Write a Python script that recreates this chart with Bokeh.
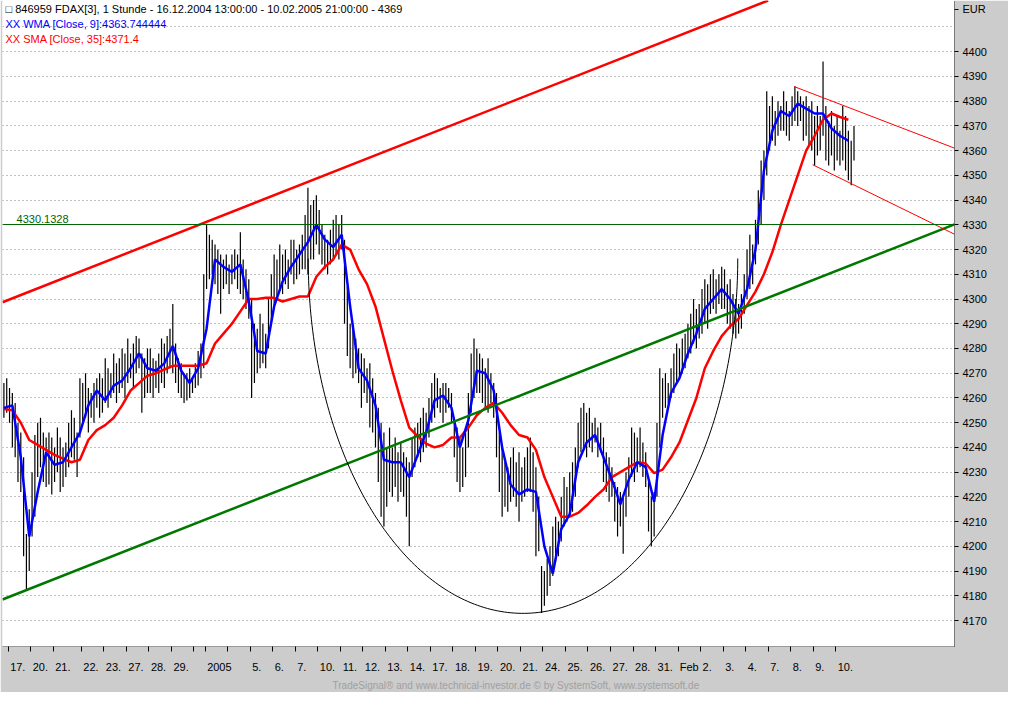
import numpy as np
from bokeh.plotting import figure
from bokeh.models import Range1d, FixedTicker, Label, Span, Title
from bokeh.embed import file_html
from bokeh.resources import INLINE

# ---------------- data ----------------
# trading days on the time axis ("" = tick without label) and hourly bars per day
day_labels = ["", "17.", "20.", "21.", "22.", "23.", "27.", "28.", "29.", "", "2005", "", "5.", "6.", "7.",
              "10.", "11.", "12.", "13.", "14.", "17.", "18.", "19.", "20.", "21.", "24.", "25.", "26.",
              "27.", "28.", "31.", "Feb", "2.", "3.", "4.", "7.", "8.", "9.", "10."]
bars_per_day = [2, 8, 8, 10, 8, 8, 8, 8, 8, 4,
                8, 8, 8, 8, 8, 8, 8, 8, 8, 8, 8, 8, 8, 8, 8, 8, 8, 8, 8, 8, 8,
                8, 8, 8, 8, 8, 8, 8, 7]

highs = [4266, 4268, 4264, 4262, 4258, 4250, 4246, 4236, 4205, 4215,
         4230, 4245, 4250, 4252, 4246, 4244, 4246, 4244, 4240, 4248,
         4244, 4240, 4242, 4250, 4255, 4252, 4246, 4268, 4266, 4270,
         4264, 4262, 4266, 4268, 4270, 4268, 4276, 4272, 4270, 4278,
         4274, 4276, 4280, 4278, 4284, 4278, 4282, 4285, 4284, 4278,
         4276, 4280, 4280, 4276, 4275, 4278, 4284, 4282, 4285, 4288,
         4298, 4282, 4276, 4274, 4270, 4270, 4272, 4268, 4274, 4279,
         4282, 4310, 4330, 4326, 4324, 4322, 4320, 4318, 4316, 4318,
         4314, 4318, 4320, 4318, 4327, 4316, 4312, 4308, 4300, 4290,
         4288, 4294, 4290, 4286, 4300, 4310, 4318, 4316, 4322, 4318,
         4320, 4316, 4324, 4324, 4320, 4322, 4326, 4334, 4345, 4338,
         4340, 4342, 4336, 4330, 4326, 4324, 4328, 4332, 4334, 4330,
         4334, 4324, 4305, 4290, 4288, 4284, 4280, 4278, 4276, 4272,
         4274, 4268, 4262, 4256, 4250, 4246, 4240, 4248, 4240, 4244,
         4238, 4242, 4238, 4236, 4234, 4244, 4248, 4250, 4252, 4256,
         4254, 4260, 4266, 4270, 4268, 4264, 4266, 4266, 4264, 4262,
         4252, 4248, 4244, 4240, 4246, 4262, 4278, 4284, 4280, 4278,
         4276, 4272, 4276, 4270, 4266, 4262, 4246, 4240, 4234, 4232,
         4236, 4240, 4234, 4238, 4232, 4236, 4240, 4244, 4238, 4232,
         4220, 4192, 4190, 4195, 4200, 4208, 4212, 4210, 4220, 4228,
         4224, 4230, 4234, 4240, 4250, 4256, 4258, 4254, 4256, 4250,
         4252, 4248, 4250, 4244, 4238, 4236, 4232, 4226, 4224, 4222,
         4220, 4230, 4236, 4248, 4246, 4244, 4248, 4242, 4238, 4226,
         4220, 4222, 4250, 4272, 4268, 4270, 4266, 4272, 4278, 4282,
         4280, 4284, 4286, 4290, 4294, 4300, 4296, 4298, 4304, 4308,
         4306, 4310, 4312, 4308, 4310, 4313, 4312, 4306, 4308, 4302,
         4300, 4298, 4302, 4310, 4320, 4326, 4322, 4332, 4344, 4356,
         4360, 4384, 4378, 4382, 4376, 4380, 4378, 4384, 4380, 4376,
         4382, 4386, 4384, 4382, 4380, 4382, 4378, 4380, 4374, 4378,
         4374, 4396, 4378, 4372, 4376, 4370, 4374, 4368, 4378, 4374,
         4368, 4364, 4370]

lows = [4252, 4254, 4250, 4240, 4236, 4226, 4222, 4196, 4182, 4190,
        4204, 4212, 4228, 4232, 4226, 4224, 4225, 4221, 4226, 4230,
        4222, 4224, 4228, 4232, 4236, 4235, 4228, 4244, 4250, 4252,
        4246, 4252, 4250, 4256, 4252, 4254, 4258, 4256, 4260, 4262,
        4258, 4262, 4264, 4260, 4266, 4268, 4264, 4270, 4272, 4254,
        4260, 4262, 4262, 4260, 4264, 4262, 4266, 4264, 4270, 4272,
        4270, 4266, 4262, 4260, 4258, 4259, 4260, 4262, 4264, 4265,
        4268, 4272, 4304, 4308, 4310, 4306, 4302, 4294, 4304, 4306,
        4302, 4306, 4308, 4304, 4302, 4300, 4296, 4292, 4260, 4266,
        4270, 4272, 4274, 4272, 4280, 4290, 4296, 4300, 4304, 4302,
        4306, 4304, 4310, 4306, 4308, 4310, 4312, 4312, 4310, 4316,
        4316, 4322, 4318, 4314, 4312, 4310, 4314, 4316, 4318, 4316,
        4320, 4290, 4277, 4272, 4268, 4270, 4266, 4256, 4262, 4258,
        4248, 4246, 4240, 4226, 4212, 4208, 4216, 4222, 4220, 4224,
        4218, 4222, 4220, 4212, 4200, 4228, 4232, 4236, 4234, 4238,
        4240, 4244, 4250, 4252, 4256, 4254, 4250, 4254, 4256, 4250,
        4236, 4226, 4222, 4224, 4228, 4240, 4254, 4260, 4262, 4262,
        4258, 4256, 4254, 4258, 4252, 4236, 4222, 4212, 4216, 4214,
        4218, 4220, 4216, 4210, 4218, 4220, 4222, 4222, 4214, 4196,
        4198, 4173, 4176, 4180, 4184, 4188, 4194, 4196, 4202, 4208,
        4210, 4212, 4214, 4220, 4232, 4238, 4240, 4236, 4240, 4238,
        4242, 4236, 4238, 4226, 4222, 4218, 4220, 4210, 4204, 4208,
        4197, 4212, 4220, 4228, 4226, 4230, 4232, 4228, 4224, 4206,
        4200, 4204, 4220, 4240, 4252, 4256, 4258, 4260, 4262, 4266,
        4268, 4270, 4272, 4276, 4278, 4282, 4280, 4284, 4286, 4290,
        4288, 4294, 4296, 4294, 4298, 4296, 4296, 4290, 4288, 4286,
        4284, 4286, 4288, 4294, 4300, 4304, 4306, 4314, 4322, 4330,
        4340, 4350, 4360, 4364, 4362, 4366, 4368, 4368, 4366, 4364,
        4370, 4372, 4370, 4372, 4364, 4366, 4362, 4360, 4354, 4358,
        4360, 4366, 4356, 4354, 4358, 4352, 4356, 4354, 4356, 4352,
        4348, 4346, 4356]

# WMA(9) and SMA(35) read every 3rd bar
ma_step = 3
wma = [4256, 4257, 4236, 4204, 4222, 4238, 4233, 4234, 4240, 4246,
       4257, 4263, 4259, 4265, 4267, 4272, 4278, 4272, 4271, 4274,
       4281, 4271, 4266, 4272, 4288, 4316, 4313, 4311, 4314, 4299,
       4279, 4278, 4297, 4307, 4313, 4318, 4323, 4330, 4324, 4321,
       4326, 4297, 4272, 4267, 4257, 4235, 4234, 4234, 4228, 4237,
       4246, 4259, 4261, 4256, 4240, 4251, 4271, 4270, 4263, 4240,
       4225, 4221, 4223, 4222, 4200, 4189, 4207, 4213, 4234, 4242,
       4245, 4236, 4227, 4217, 4227, 4234, 4232, 4218, 4245, 4262,
       4268, 4278, 4286, 4296, 4300, 4304, 4300, 4294, 4304, 4320,
       4352, 4368, 4376, 4374, 4379, 4377, 4375, 4375, 4369, 4366,
       4364]
sma = [4255.5, 4255, 4250, 4243, 4241, 4239, 4237, 4235.5, 4234, 4235,
       4243, 4247, 4249, 4252, 4257, 4263, 4266, 4269, 4270, 4271.5,
       4273, 4273, 4273, 4273, 4274, 4282, 4286, 4290, 4295, 4300,
       4300, 4300.5, 4300.5, 4299, 4300, 4301, 4301, 4309, 4313, 4316,
       4322, 4320, 4312, 4306, 4297, 4284, 4271, 4259, 4248, 4244.5,
       4241.5, 4240, 4241, 4244, 4244, 4248, 4253, 4256, 4258, 4254,
       4249, 4245, 4244, 4239, 4228, 4220, 4212, 4212, 4213.5, 4216.5,
       4220, 4223, 4228, 4230, 4232, 4234, 4233.5, 4229.6, 4231, 4236,
       4242, 4251, 4260, 4272, 4279, 4285, 4289, 4292, 4297.5, 4303,
       4310, 4319, 4330, 4340, 4350, 4360, 4366, 4372.5, 4375, 4373.6,
       4372.5]

y_ticks = list(range(4170, 4401, 10))
grid_levels = list(range(4170, 4411, 10))
currency = "EUR"

# drawn annotations (bar-index x, price y)
upper_trend = ([0.0, 272.0], [4298.7, 4420.7])
lower_trend = ([0.0, 338.2], [4178.5, 4330.2])
level_line = 4330.1328
channel_top = ([281.2, 338.2], [4385.9, 4361.0])
channel_bottom = ([287.8, 338.2], [4354.3, 4326.2])
arc_center = (184.9, 4316.4)
arc_radii = (76.3, 143.5)

header = "\u25a1 846959  FDAX[3], 1 Stunde - 16.12.2004 13:00:00 - 10.02.2005 21:00:00 - 4369"
wma_text = "XX WMA [Close, 9]:4363.744444"
sma_text = "XX SMA [Close, 35]:4371.4"
footer = "TradeSignal\u00ae and www.technical-investor.de \u00a9 by SystemSoft, www.systemsoft.de"

# ---------------- layout ----------------
FW, FH = 952, 646
X0, X1 = 0.0, 338.2
Y0, Y1 = 4159.5, 4420.7
pxu = FW / (X1 - X0)
pyu = FH / (Y1 - Y0)
FONT = "Liberation Sans"

p = figure(frame_width=FW, frame_height=FH, x_range=Range1d(X0, X1), y_range=Range1d(Y0, Y1),
           y_axis_location="right", toolbar_location=None, output_backend="svg",
           min_border_left=2, min_border_right=54, min_border_top=0, min_border_bottom=46,
           background_fill_color="white", border_fill_color="#cccccc", outline_line_color=None)

# bars
xs = [i + 0.5 for i in range(len(highs))]
p.segment(x0=xs, y0=lows, x1=xs, y1=highs, line_color="black", line_width=1.2)

# moving averages
ma_x = [k * ma_step + 0.5 for k in range(len(wma))]
p.line(ma_x, sma, line_color="#ff0000", line_width=2.5)
p.line(ma_x, wma, line_color="#0000ff", line_width=2.5)

# drawn tools
p.line(*upper_trend, line_color="#ff0000", line_width=2.5)
p.line(*lower_trend, line_color="#007800", line_width=2.5)
p.add_layout(Span(location=level_line, dimension="width", line_color="#006400", line_width=1))
p.line(*channel_top, line_color="#ff0000", line_width=1)
p.line(*channel_bottom, line_color="#ff0000", line_width=1)
t = np.linspace(np.pi, 2 * np.pi, 200)
p.line(arc_center[0] + arc_radii[0] * np.cos(t), arc_center[1] + arc_radii[1] * np.sin(t),
       line_color="black", line_width=1)

# grid
p.xgrid.visible = False
p.ygrid.ticker = FixedTicker(ticks=grid_levels)
p.ygrid.grid_line_color = "#808080"
p.ygrid.grid_line_dash = "1 3"
p.ygrid.grid_line_width = 1

# right price axis (currency shown as the top entry, 9 px below the frame top)
cur_pos = round(Y1 - 9 / pyu, 3)
ya = p.yaxis[0]
ya.ticker = FixedTicker(ticks=y_ticks + [cur_pos])
ya.major_label_overrides = {cur_pos: currency}
ya.axis_line_color = "black"
ya.axis_line_dash = "1 1"
ya.major_tick_out = 4
ya.major_tick_in = 0
ya.minor_tick_out = 0
ya.minor_tick_in = 0
ya.major_tick_line_color = "black"
ya.major_label_standoff = 4
ya.major_label_text_font = FONT
ya.major_label_text_font_size = "11px"
ya.major_label_text_color = "black"

# time axis: minor ticks at day starts, labels just right of them
starts = np.concatenate([[0], np.cumsum(bars_per_day)[:-1]]).astype(float)
def text_w(s):
    return sum(3.1 if c == "." else 6.1 for c in s)
tick_days = list(starts[1:])
label_pos, overrides = [], {}
for s0, lab_txt in zip(starts[1:], day_labels[1:]):
    if lab_txt:
        pos = round(float(s0) + (2 + text_w(lab_txt) / 2) / pxu, 4)
        label_pos.append(pos)
        overrides[pos] = lab_txt
xa = p.xaxis[0]
xa.ticker = FixedTicker(ticks=label_pos, minor_ticks=[float(v) for v in tick_days])
xa.major_label_overrides = overrides
xa.axis_line_color = "#9a9a9a"
xa.major_tick_out = 0
xa.major_tick_in = 0
xa.minor_tick_out = 5
xa.minor_tick_in = 0
xa.minor_tick_line_color = "black"
xa.major_label_standoff = 9
xa.major_label_text_font = FONT
xa.major_label_text_font_size = "11px"
xa.major_label_text_color = "black"

# footer line under the time axis
p.add_layout(Title(text=footer, align="left", offset=330, text_font=FONT, text_font_size="10px",
                   text_font_style="normal", text_color="#a0a0a0", standoff=4), "below")

# texts inside the chart area
def lab(x, y, text, color="black", size="11px", align="left"):
    p.add_layout(Label(x=x, y=y, x_units="screen", y_units="screen", text=text, text_color=color,
                       text_font=FONT, text_font_size=size, text_align=align, text_baseline="middle"))

lab(3, FH - 8, header)
lab(3, FH - 23, wma_text, color="#0000ff")
lab(3, FH - 38, sma_text, color="#ff0000")
p.add_layout(Label(x=5.0, y=level_line, text="4330.1328", text_color="#006400", text_font=FONT,
                   text_font_size="11px", text_baseline="bottom", y_offset=1))

open("out.html", "w").write(file_html(p, INLINE))
